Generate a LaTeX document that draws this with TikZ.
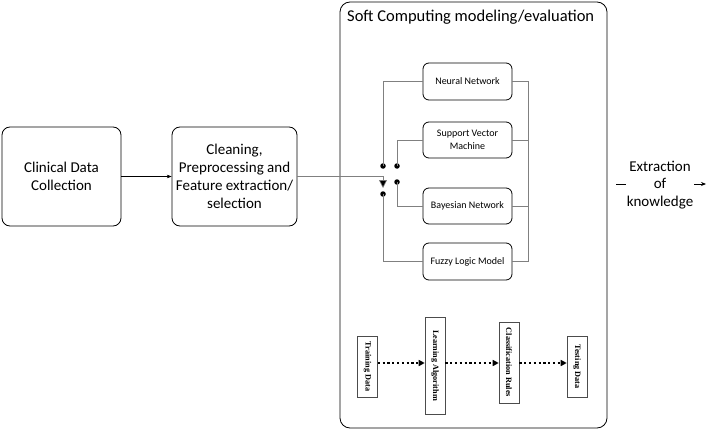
\documentclass[tikz,border=0pt]{standalone}
\usepackage{fontspec}
\setmainfont{Carlito}
\newfontfamily\serifb{Liberation Serif}
\usetikzlibrary{arrows.meta}
\begin{document}
\begin{tikzpicture}[x=1pt,y=-1pt,
  mainbox/.style={draw=black, line width=0.8pt, rounded corners=8pt, align=center, font=\fontsize{15}{18}\selectfont, inner sep=2pt},
  modelbox/.style={draw=black, line width=0.8pt, rounded corners=6pt, minimum width=89pt, align=center, font=\fontsize{10}{13}\selectfont, inner sep=1pt},
  flowbox/.style={draw=black!70, line width=0.6pt, minimum width=20pt, inner sep=0pt},
  flowtext/.style={rotate=-90, inner sep=0pt, font=\serifb\bfseries\fontsize{8.2}{10}\selectfont},
  glink/.style={draw=black!50, line width=0.6pt},
  dotlink/.style={line width=1.8pt, dash pattern=on 2.2pt off 2.6pt, -{Triangle[length=6pt,width=6pt]}},
  sw/.style={circle, fill=black, inner sep=0pt, minimum size=5.5pt}
]
\useasboundingbox (0,0) rectangle (709,433);
% main boxes
\node[mainbox, minimum width=119pt, minimum height=99pt] (b1) at (61.5,176.5) {Clinical Data\\Collection};
\node[mainbox, minimum width=125pt, minimum height=99pt] (b2) at (234.5,176.5) {Cleaning,\\Preprocessing and\\Feature extraction/\\selection};
\node[draw=black, line width=0.8pt, rounded corners=10pt, minimum width=267pt, minimum height=426pt] (big) at (473.5,215) {};
\node[anchor=west, font=\fontsize{16.5}{19}\selectfont, inner sep=0pt] (title) at (347,17) {Soft Computing modeling/evaluation};
% models
\node[modelbox, minimum height=37pt] (nn) at (467.5,81.5) {Neural Network};
\node[modelbox, minimum height=36pt] (svm) at (467.5,140) {Support Vector\\Machine};
\node[modelbox, minimum height=36pt] (bn) at (467.5,206) {Bayesian Network};
\node[modelbox, minimum height=37pt] (fz) at (467.5,261.5) {Fuzzy Logic Model};
% switch
\node[sw] (d1) at (383,166) {};
\node[sw] (d2) at (397,166) {};
\node[sw] (d3) at (397,182) {};
\node[sw] (d4) at (383,194) {};
\coordinate (sin) at (383,176);
\coordinate (stip) at (383,188);
\draw[->, >=Stealth] (b1.east) -- (b2.west);
\draw[glink] (b2.east |- sin) -- (sin);
\draw[glink, -{Triangle[length=8pt,width=8pt,fill=black]}] (sin) -- (stip);
\draw[glink] (nn.west) -| (d1.center);
\draw[glink] (svm.west) -| (d2.center);
\draw[glink] (bn.west) -| (d3.center);
\draw[glink] (fz.west) -| (d4.center);
\coordinate (rtop) at (528,81.5);
\coordinate (rbot) at (528,261.5);
\draw[glink] (nn.east) -- (rtop) -- (rbot) -- (fz.east);
\draw[glink] (svm.east) -- (svm.east -| rtop);
\draw[glink] (bn.east) -- (bn.east -| rtop);
% extraction
\coordinate (exs) at (616,184);
\coordinate (exe) at (706,184);
\draw[line width=0.8pt, -{Stealth[length=5pt,width=4pt]}] (exs) -- (exe);
\node[fill=white, align=center, inner sep=1pt, font=\fontsize{15}{17.5}\selectfont] (ex) at (660,185) {Extraction\\of\\knowledge};
% flow
\node[flowbox, minimum height=61pt] (td) at (367.5,366.5) {};
\node[flowbox, minimum height=97pt] (la) at (435,365.5) {};
\node[flowbox, minimum height=81pt] (cr) at (509,362.5) {};
\node[flowbox, minimum height=61pt] (te) at (577,366.5) {};
\node[flowtext] (tdt) at (td.center) {Training Data};
\node[flowtext] (lat) at (la.center) {Learning Algorithm};
\node[flowtext] (crt) at (cr.center) {Classification Rules};
\node[flowtext] (tet) at (te.center) {Testing Data};
\draw[dotlink] (td.east |- 0,363) -- (la.west |- 0,363);
\draw[dotlink] (la.east |- 0,363) -- (cr.west |- 0,363);
\draw[dotlink] (cr.east |- 0,363) -- (te.west |- 0,363);
\end{tikzpicture}
\end{document}
